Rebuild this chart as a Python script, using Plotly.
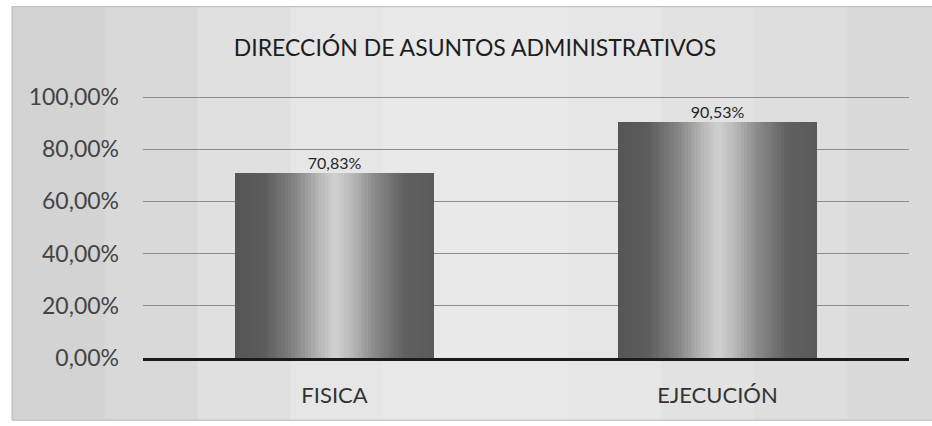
import plotly.graph_objects as go

categories = ["FISICA", "EJECUCIÓN"]
values = [70.83, 90.53]
value_labels = ["70,83%", "90,53%"]
y_ticks = [0, 20, 40, 60, 80, 100]
y_tick_labels = ["0,00%", "20,00%", "40,00%", "60,00%", "80,00%", "100,00%"]
title_text = "DIRECCIÓN DE ASUNTOS ADMINISTRATIVOS"

# cylinder-like shading profile (position across bar -> gray level)
shade_stops = [(0.0, 86), (0.15, 92), (0.3, 132), (0.42, 182), (0.5, 208),
               (0.58, 188), (0.7, 138), (0.85, 96), (1.0, 90)]

def shade(t):
    for (t0, g0), (t1, g1) in zip(shade_stops[:-1], shade_stops[1:]):
        if t0 <= t <= t1:
            g = g0 + (g1 - g0) * (t - t0) / (t1 - t0)
            g = int(round(g))
            return f"rgb({g},{g},{g})"
    g = shade_stops[-1][1]
    return f"rgb({g},{g},{g})"

BAR_W = 0.52
N = 60
sw = BAR_W / N

fig = go.Figure()

for i in range(N):
    t = (i + 0.5) / N
    fig.add_trace(go.Bar(
        x=categories, y=values,
        width=sw * 1.05, offset=-BAR_W / 2 + i * sw,
        marker=dict(color=shade(t), line=dict(width=0)),
        showlegend=False, hoverinfo="skip",
    ))

fig.add_trace(go.Scatter(
    x=categories, y=values, mode="text", text=value_labels,
    textposition="top center",
    textfont=dict(family="Lato", size=16, color="#262626"),
    showlegend=False, hoverinfo="skip",
))

# chart area background (scanned gray panel) with white surround
bg_cols = ["#d3d3d3", "#d9d9d9", "#e0e0e0", "#e6e6e6", "#e9e9e9", "#e9e9e9",
           "#e6e6e6", "#e2e2e2", "#dedede", "#dadada"]
x_start, x_end = -0.171, 1.04
step = (x_end - x_start) / len(bg_cols)
shapes = []
for k, c in enumerate(bg_cols):
    shapes.append(dict(type="rect", xref="paper", yref="paper",
                       x0=x_start + k * step, x1=x_start + (k + 1) * step + 0.002,
                       y0=-0.2375, y1=1.341, fillcolor=c, line=dict(width=0),
                       layer="below"))
shapes.append(dict(type="rect", xref="paper", yref="paper",
                   x0=x_start, x1=1.2, y0=-0.2375, y1=1.341,
                   fillcolor="rgba(0,0,0,0)", line=dict(width=1, color="#b8b8b8"),
                   layer="below"))

fig.update_layout(
    width=932, height=426,
    margin=dict(l=143, r=23, t=96, b=68),
    paper_bgcolor="white",
    plot_bgcolor="rgba(0,0,0,0)",
    barmode="overlay",
    bargap=0,
    shapes=shapes,
    title=dict(text=title_text, x=475 / 932, xref="container", xanchor="center",
               y=1 - 48 / 426, yref="container", yanchor="middle",
               font=dict(family="Lato", size=23, color="#1e1e1e")),
    xaxis=dict(showgrid=False, showline=True, linecolor="#1a1a1a", linewidth=2.5,
               ticks="", tickfont=dict(family="Lato", size=22, color="#333333"),
               ticklabelstandoff=16, range=[-0.5, 1.5]),
    yaxis=dict(range=[0, 100.4], tickvals=y_ticks, ticktext=y_tick_labels,
               showgrid=True, gridcolor="#8c8c8c", gridwidth=1,
               zeroline=False, showline=False, ticks="",
               tickfont=dict(family="Lato", size=23, color="#444444"),
               ticklabelstandoff=23),
)

fig.write_html("out.html", config={"displayModeBar": False},
               post_script="document.body.style.margin='0';")
